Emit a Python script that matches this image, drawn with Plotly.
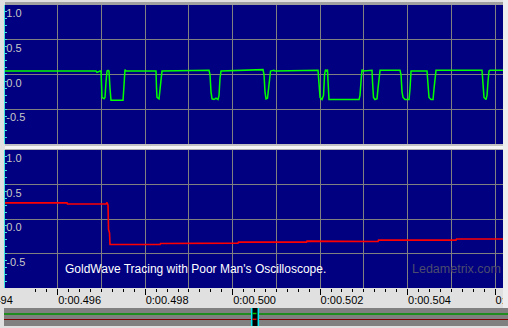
import plotly.graph_objects as go

W, H = 508, 328

# ---------------- data ----------------
# channel 1 (top, green): time [s], amplitude
ch1_t = [0.494794, 0.496875, 0.496898, 0.496944, 0.496967, 0.496990, 0.497001, 0.497012,
         0.497058, 0.497081, 0.497104, 0.497127, 0.497150, 0.497172, 0.497195, 0.497218,
         0.497493, 0.497515, 0.497538, 0.497561,
         0.498224, 0.498247, 0.498259, 0.498270, 0.498316, 0.498339, 0.498362, 0.498384,
         0.499459, 0.499482, 0.499505, 0.499528, 0.499574, 0.499619, 0.499665, 0.499688,
         0.499711, 0.499734,
         0.500694, 0.500717, 0.500740, 0.500763, 0.500797, 0.500820, 0.500843, 0.500866,
         0.500946, 0.500969,
         0.501952, 0.501975, 0.501998, 0.502043, 0.502078, 0.502101, 0.502123, 0.502146,
         0.502169, 0.502181, 0.502203, 0.502890, 0.502912, 0.502935, 0.502958, 0.502981,
         0.503187, 0.503198, 0.503221, 0.503255, 0.503301, 0.503324, 0.503347, 0.503370,
         0.503827, 0.503850, 0.503873, 0.503896, 0.503941, 0.504033, 0.504056, 0.504079,
         0.504444, 0.504467, 0.504490, 0.504536, 0.504582, 0.504605, 0.504627, 0.504650,
         0.505702, 0.505725, 0.505748, 0.505794, 0.505817, 0.505839, 0.505862, 0.505885,
         0.506182]
ch1_v = [0.05, 0.05, 0.03, 0.05, 0.05, 0.05, -0.15, -0.33,
         -0.35, -0.33, -0.10, 0.05, 0.06, 0.05, -0.20, -0.37,
         -0.37, -0.20, 0.07, 0.05,
         0.06, 0.05, -0.20, -0.33, -0.35, -0.20, 0.00, 0.05,
         0.06, 0.00, -0.25, -0.35, -0.36, -0.34, -0.36, -0.30,
         -0.05, 0.05,
         0.07, 0.00, -0.25, -0.35, -0.34, -0.20, 0.00, 0.05,
         0.06, 0.05,
         0.06, -0.10, -0.33, -0.36, -0.30, 0.00, 0.07, 0.05,
         0.07, -0.10, -0.36, -0.36, -0.30, -0.10, 0.07, 0.05,
         0.06, -0.10, -0.33, -0.36, -0.35, -0.20, 0.00, 0.06,
         0.06, 0.00, -0.25, -0.33, -0.36, -0.36, -0.20, 0.05,
         0.05, -0.10, -0.33, -0.36, -0.36, -0.20, 0.00, 0.06,
         0.06, -0.15, -0.33, -0.36, -0.30, -0.10, 0.05, 0.06,
         0.06]

# channel 2 (bottom, red): time [s], amplitude
ch2_t = [0.494794, 0.496212, 0.496223, 0.497104, 0.497127, 0.497150, 0.497161, 0.497184,
         0.497195, 0.498339, 0.498350, 0.500122, 0.500134, 0.501689, 0.501700,
         0.502981, 0.502992, 0.503324, 0.503335, 0.505108, 0.505119, 0.506182]
ch2_v = [0.233, 0.233, 0.218, 0.218, 0.24, 0.20, -0.15, -0.20,
         -0.37, -0.37, -0.355, -0.35, -0.335, -0.335, -0.32,
         -0.32, -0.325, -0.325, -0.306, -0.306, -0.29, -0.29]

t_range = [0.494794, 0.506182]
grid_t = [0.495, 0.496, 0.497, 0.498, 0.499, 0.500, 0.501, 0.502, 0.503, 0.504, 0.505, 0.506]
label_t = [0.496, 0.498, 0.500, 0.502, 0.504, 0.506]
label_txt = ["0:00.496", "0:00.498", "0:00.500", "0:00.502", "0:00.504", "0:00.506"]
first_label = "0:00.494"
amp_ticks = [-0.5, 0.0, 0.5, 1.0]
amp_txt = ["-0.5", "0.0", "0.5", "1.0"]

title_txt = "GoldWave Tracing with Poor Man's Oscilloscope."
brand_txt = "Ledametrix.com"


def px(x):
    return x / W


def py(y):
    return 1 - y / H


NAVY = "#000080"
GRID = "#808080"
CYAN = "#40E0E0"
FONT = "Liberation Sans, Arial, sans-serif"

fig = go.Figure()
fig.add_trace(go.Scatter(x=ch1_t, y=ch1_v, mode="lines", line=dict(color="#00FF00", width=1.5),
                         xaxis="x", yaxis="y", showlegend=False))
fig.add_trace(go.Scatter(x=ch2_t, y=ch2_v, mode="lines", line=dict(color="#FF0000", width=1.6),
                         xaxis="x2", yaxis="y2", showlegend=False))
fig.add_trace(go.Scatter(x=[], y=[], xaxis="x3", yaxis="y2", showlegend=False))

xdom = [px(5), px(503)]
common_x = dict(domain=xdom, range=t_range, tickmode="array", tickvals=grid_t,
                showgrid=True, gridcolor=GRID, gridwidth=1, zeroline=False,
                showticklabels=False, ticks="", showline=False, automargin=False)
fig.update_layout(
    xaxis=dict(anchor="y", **common_x),
    xaxis2=dict(anchor="y2", **common_x),
    xaxis3=dict(domain=xdom, range=t_range, anchor="y2", overlaying="x2", side="bottom",
                tickmode="array", tickvals=label_t, ticktext=label_txt,
                ticks="outside", ticklen=6, tickcolor="black", tickwidth=1,
                ticklabelposition="outside right", ticklabeloverflow="allow",
                ticklabelstandoff=2, automargin=False,
                showgrid=False, zeroline=False, showline=False,
                tickfont=dict(family=FONT, size=11, color="black"),
                minor=dict(tickmode="linear", tick0=0.495, dtick=0.00025, ticks="outside",
                           ticklen=3, tickcolor="black", showgrid=False)),
)

common_y = dict(range=[-1, 1], tickmode="array", tickvals=amp_ticks, ticktext=amp_txt,
                showgrid=True, gridcolor=GRID, gridwidth=1, zeroline=False,
                showline=True, linecolor=CYAN, linewidth=1, automargin=False,
                ticks="inside", ticklen=2, tickcolor=CYAN,
                ticklabelposition="inside bottom",
                tickfont=dict(family=FONT, size=11, color="#C8C8C8"),
                minor=dict(tickmode="linear", tick0=0, dtick=0.1, ticks="inside", ticklen=2,
                           tickcolor=CYAN, showgrid=False))
fig.update_layout(
    yaxis=dict(domain=[py(144), py(5)], anchor="x", **common_y),
    yaxis2=dict(domain=[py(288), py(150)], anchor="x2", **common_y),
)

shapes = []


def rect(x0, y0, x1, y1, color):
    shapes.append(dict(type="rect", xref="paper", yref="paper", x0=px(x0), x1=px(x1),
                       y0=py(y1), y1=py(y0), fillcolor=color, line=dict(width=0), layer="above"))


def hline(x0, x1, y, color, w=1):
    shapes.append(dict(type="line", xref="paper", yref="paper", x0=px(x0), x1=px(x1),
                       y0=py(y), y1=py(y), line=dict(color=color, width=w), layer="above"))


def vline(x, y0, y1, color, w=1):
    shapes.append(dict(type="line", xref="paper", yref="paper", x0=px(x), x1=px(x),
                       y0=py(y0), y1=py(y1), line=dict(color=color, width=w), layer="above"))


# window chrome
rect(5, 2, 503, 5, "#A0A0A0")
rect(5, 144, 503, 150, "#F4F4F4")
hline(5, 503, 145, "#909090")
hline(5, 503, 149.5, "#B0B0B0")
rect(503, 0, 508, 308, "#EEEEEE")
# overview / scroll strip
rect(4, 308, 508, 326, "#808080")
hline(4, 508, 314, "#009000", 1.5)
hline(4, 508, 319.5, "#800000", 1.2)
rect(251, 308, 259, 326, "#000000")
vline(251.7, 308, 326, "#00E8F0", 1.5)
vline(258.3, 308, 326, "#00E8F0", 1.5)
hline(252.5, 256.5, 313.5, "#00C000", 1.5)
hline(252.5, 256.5, 319.3, "#E00000", 1.5)

fig.update_layout(
    shapes=shapes,
    annotations=[
        dict(text=title_txt, xref="paper", yref="paper", x=px(63), y=py(269),
             xanchor="left", yanchor="middle", showarrow=False,
             font=dict(family=FONT, size=12, color="white")),
        dict(text=brand_txt, xref="paper", yref="paper", x=px(410), y=py(269),
             xanchor="left", yanchor="middle", showarrow=False,
             font=dict(family=FONT, size=12.5, color="#4C4C6E")),
        dict(text=first_label, xref="paper", yref="paper", x=px(15), y=py(300),
             xanchor="right", yanchor="middle", showarrow=False,
             font=dict(family=FONT, size=11, color="black")),
    ],
    width=W, height=H, margin=dict(l=0, r=0, t=0, b=0, autoexpand=False),
    paper_bgcolor="#E0E0E0", plot_bgcolor=NAVY, showlegend=False,
)

fig.write_html("out.html")
